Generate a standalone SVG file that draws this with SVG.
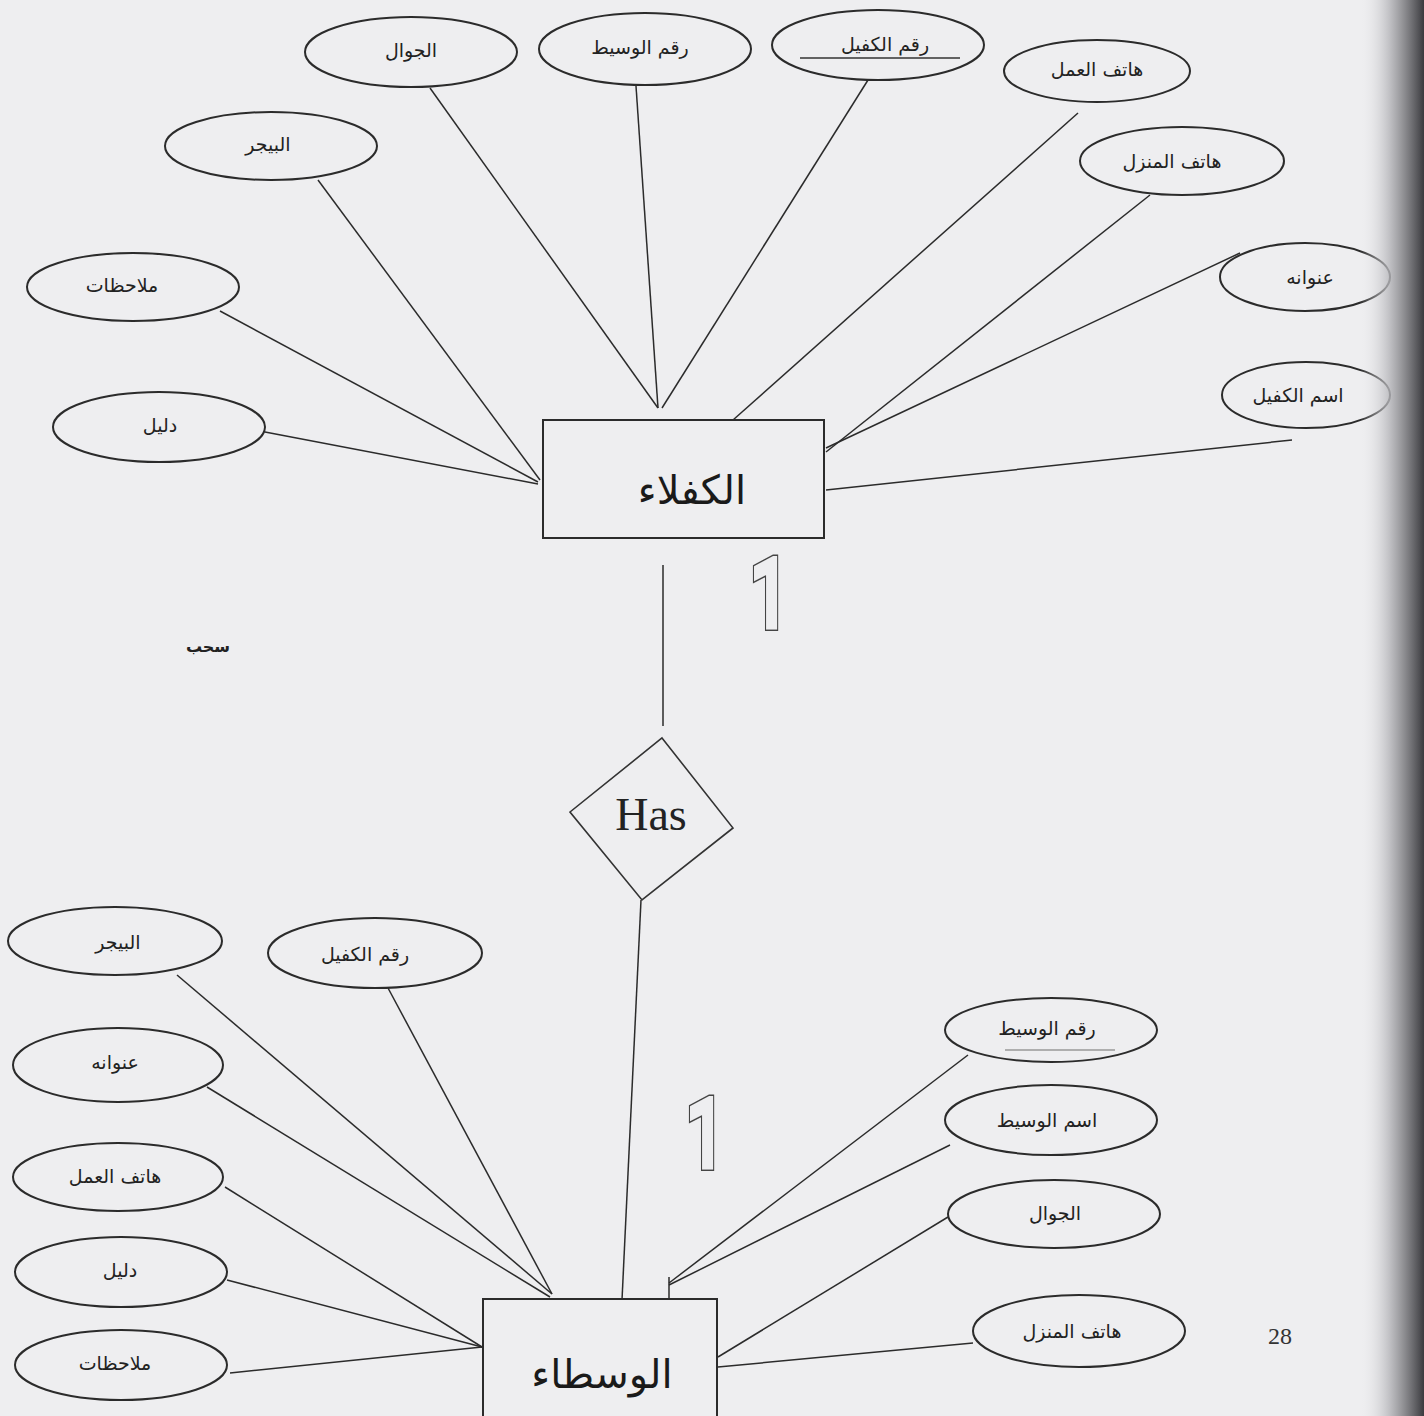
<svg xmlns="http://www.w3.org/2000/svg" width="1424" height="1416" viewBox="0 0 1424 1416">
<defs>
<style>
.bg{fill:#eeeef0}
.attr{fill:none;stroke:#2b2b2b;stroke-width:2}
.ent{fill:none;stroke:#2b2b2b;stroke-width:2}
.rel{fill:none;stroke:#333;stroke-width:1.6}
.lbl{font-family:"DejaVu Sans",sans-serif;font-size:19px;fill:#222;text-anchor:middle;dominant-baseline:central}
.big{font-family:"DejaVu Sans",sans-serif;font-size:40px;fill:#1a1a1a;text-anchor:middle;dominant-baseline:central}
.has{font-family:"Liberation Serif",serif;font-size:46px;fill:#222;text-anchor:middle}
.one{font-family:Roboto,sans-serif;font-size:92px}
.one .o{fill:#444;stroke:#444;stroke-width:10;stroke-linejoin:miter}
.one .i{fill:#eeeef0;stroke:#eeeef0;stroke-width:7;stroke-linejoin:miter}
.conn line{stroke:#2b2b2b;stroke-width:1.5}
.ul{stroke:#333;stroke-width:1.5}
</style>
<linearGradient id="edge" x1="0" y1="0" x2="1" y2="0">
<stop offset="0" stop-color="#eeeef0" stop-opacity="0"/>
<stop offset="0.45" stop-color="#b8b8bc" stop-opacity="0.8"/>
<stop offset="1" stop-color="#3a3a3e"/>
</linearGradient>
</defs>
<rect class="bg" x="0" y="0" width="1424" height="1416"/>

<g id="connectors" class="conn">
<line x1="318" y1="180" x2="540" y2="480"/>
<line x1="220" y1="311" x2="538" y2="482"/>
<line x1="265" y1="432" x2="538" y2="484"/>
<line x1="430" y1="88" x2="658" y2="408"/>
<line x1="636" y1="86" x2="658" y2="408"/>
<line x1="868" y1="80" x2="662" y2="408"/>
<line x1="1078" y1="113" x2="733" y2="420"/>
<line x1="1150" y1="195" x2="826" y2="452"/>
<line x1="1240" y1="253" x2="826" y2="448"/>
<line x1="1292" y1="440" x2="826" y2="490"/>
<line x1="663" y1="565" x2="663" y2="726"/>
<line x1="641" y1="900" x2="622" y2="1300"/>
<line x1="177" y1="975" x2="552" y2="1294"/>
<line x1="388" y1="988" x2="552" y2="1294"/>
<line x1="207" y1="1087" x2="550" y2="1297"/>
<line x1="225" y1="1187" x2="482" y2="1347"/>
<line x1="227" y1="1280" x2="482" y2="1347"/>
<line x1="230" y1="1373" x2="482" y2="1347"/>
<line x1="968" y1="1055" x2="669" y2="1283"/>
<line x1="950" y1="1145" x2="669" y2="1285"/>
<line x1="669" y1="1277" x2="669" y2="1299"/>
<line x1="948" y1="1217" x2="718" y2="1357"/>
<line x1="973" y1="1343" x2="718" y2="1367"/>
</g>

<g id="entity-kufala">
<rect class="ent" x="543" y="420" width="281" height="118"/>
<text class="big" x="692" y="490">الكفلاء</text>
</g>
<g id="entity-wusataa">
<rect class="ent" x="483" y="1299" width="234" height="125"/>
<text class="big" x="602" y="1374">الوسطاء</text>
</g>
<g id="rel-has">
<polygon class="rel" points="662,738 733,828 642,900 570,812"/>
<text class="has" x="651" y="830">Has</text>
</g>
<g id="card-1" class="one" transform="translate(751,626) scale(0.72,1)">
<text class="o" x="0" y="0">1</text>
<text class="i" x="0" y="0">1</text>
</g>
<g id="card-2" class="one" transform="translate(687,1166) scale(0.72,1)">
<text class="o" x="0" y="0">1</text>
<text class="i" x="0" y="0">1</text>
</g>

<g id="a-jawwal-top"><ellipse class="attr" cx="411" cy="52" rx="106" ry="35"/><text class="lbl" x="411" y="50">الجوال</text></g>
<g id="a-raqm-wasit-top"><ellipse class="attr" cx="645" cy="49" rx="106" ry="36"/><text class="lbl" x="640" y="47">رقم الوسيط</text></g>
<g id="a-raqm-kafil-top"><ellipse class="attr" cx="878" cy="45" rx="106" ry="35"/><text class="lbl" x="885" y="44">رقم الكفيل</text><line class="ul" x1="800" y1="58" x2="960" y2="58"/></g>
<g id="a-hatif-amal-top"><ellipse class="attr" cx="1097" cy="71" rx="93" ry="31"/><text class="lbl" x="1097" y="69">هاتف العمل</text></g>
<g id="a-hatif-manzil-top"><ellipse class="attr" cx="1182" cy="161" rx="102" ry="34"/><text class="lbl" x="1172" y="161">هاتف المنزل</text></g>
<g id="a-unwan-top"><ellipse class="attr" cx="1305" cy="277" rx="85" ry="34"/><text class="lbl" x="1310" y="277">عنوانه</text></g>
<g id="a-ism-kafil-top"><ellipse class="attr" cx="1306" cy="395" rx="84" ry="33"/><text class="lbl" x="1298" y="395">اسم الكفيل</text></g>
<g id="a-beeper-top"><ellipse class="attr" cx="271" cy="146" rx="106" ry="34"/><text class="lbl" x="268" y="144">البيجر</text></g>
<g id="a-mulahazat-top"><ellipse class="attr" cx="133" cy="287" rx="106" ry="34"/><text class="lbl" x="122" y="285">ملاحظات</text></g>
<g id="a-dalil-top"><ellipse class="attr" cx="159" cy="427" rx="106" ry="35"/><text class="lbl" x="160" y="425">دليل</text></g>

<text class="lbl" x="208" y="646" style="font-size:16px;font-weight:bold">سحب</text>

<g id="b-beeper"><ellipse class="attr" cx="115" cy="941" rx="107" ry="34"/><text class="lbl" x="118" y="942">البيجر</text></g>
<g id="b-raqm-kafil"><ellipse class="attr" cx="375" cy="953" rx="107" ry="35"/><text class="lbl" x="365" y="954">رقم الكفيل</text></g>
<g id="b-unwan"><ellipse class="attr" cx="118" cy="1065" rx="105" ry="37"/><text class="lbl" x="115" y="1062">عنوانه</text></g>
<g id="b-hatif-amal"><ellipse class="attr" cx="118" cy="1177" rx="105" ry="34"/><text class="lbl" x="115" y="1176">هاتف العمل</text></g>
<g id="b-dalil"><ellipse class="attr" cx="121" cy="1272" rx="106" ry="35"/><text class="lbl" x="120" y="1270">دليل</text></g>
<g id="b-mulahazat"><ellipse class="attr" cx="121" cy="1365" rx="106" ry="35"/><text class="lbl" x="115" y="1363">ملاحظات</text></g>

<g id="b-raqm-wasit"><ellipse class="attr" cx="1051" cy="1030" rx="106" ry="32"/><text class="lbl" x="1047" y="1028">رقم الوسيط</text><line class="ul" x1="1005" y1="1050" x2="1115" y2="1050" style="stroke:#999"/></g>
<g id="b-ism-wasit"><ellipse class="attr" cx="1051" cy="1120" rx="106" ry="35"/><text class="lbl" x="1047" y="1120">اسم الوسيط</text></g>
<g id="b-jawwal"><ellipse class="attr" cx="1054" cy="1214" rx="106" ry="34"/><text class="lbl" x="1055" y="1213">الجوال</text></g>
<g id="b-hatif-manzil"><ellipse class="attr" cx="1079" cy="1331" rx="106" ry="36"/><text class="lbl" x="1072" y="1331">هاتف المنزل</text></g>

<text x="1268" y="1344" style="font-family:'Liberation Serif',serif;font-size:24px;fill:#333">28</text>

<rect x="1360" y="0" width="64" height="1416" fill="url(#edge)"/>
</svg>
